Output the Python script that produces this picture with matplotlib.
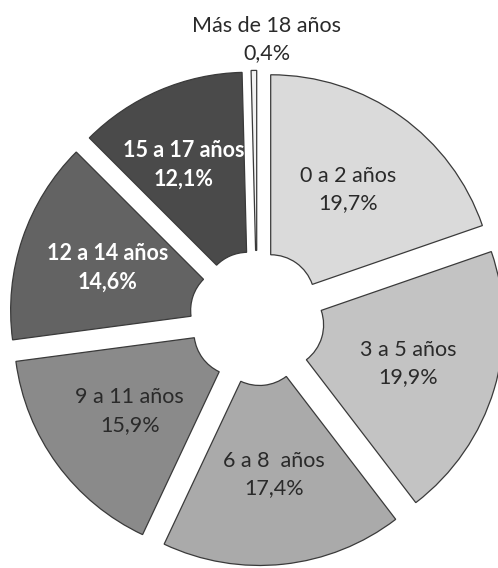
import numpy as np
import matplotlib
matplotlib.use('Agg')
import matplotlib.pyplot as plt

# age groups, clockwise from 12 o'clock
groups = ['0 a 2 años', '3 a 5 años', '6 a 8  años', '9 a 11 años',
          '12 a 14 años', '15 a 17 años', 'Más de 18 años']
pct = [19.7, 19.9, 17.4, 15.9, 14.6, 12.1, 0.4]
pct_labels = ['19,7%', '19,9%', '17,4%', '15,9%', '14,6%', '12,1%', '0,4%']

colors = ['#dadada', '#c3c3c3', '#aaaaaa', '#8a8a8a', '#636363', '#4a4a4a', '#f2f2f2']
text_colors = ['#2a2a2a'] * 4 + ['white', 'white', '#2a2a2a']
bold = [False, False, False, False, True, True, False]

W, H = 498, 568
cx, cy = 257, 250        # centre of the ring (y up)
R = 224                  # outer radius
r_in = 44                # hole radius
expl = 23.6              # explode distance

plt.rcParams['font.family'] = ['Lato', 'DejaVu Sans']

fig = plt.figure(figsize=(W / 100, H / 100), dpi=100)
ax = fig.add_axes([0, 0, 1, 1])

ax.pie(pct, colors=colors, startangle=90, counterclock=False,
       radius=R, center=(cx, cy), explode=[expl] * len(pct),
       wedgeprops=dict(width=R - r_in, edgecolor='#3a3a3a', linewidth=0.9),
       normalize=True)

ax.set_xlim(0, W)
ax.set_ylim(0, H)
ax.set_aspect('equal')
ax.axis('off')

# labels in the middle of each ring segment
total = sum(pct)
start = 90.0
rmid = (R + r_in) / 2 + expl
for i, p in enumerate(pct):
    span = 360.0 * p / total
    mid = np.radians(start - span / 2)
    start -= span
    weight = 'bold' if bold[i] else 'normal'
    if i == len(pct) - 1:
        # the tiny slice gets its label above the ring
        tx = cx + 10
        ty = cy + R + expl + 31
    else:
        tx = cx + rmid * np.cos(mid)
        ty = cy + rmid * np.sin(mid)
    if i == 5:
        # pull the 15-17 label a bit away from the thin slice
        tx -= 11
        ty += 8
    ax.text(tx, ty, groups[i] + '\n' + pct_labels[i], ha='center', va='center',
            fontsize=15.5, color=text_colors[i], fontweight=weight,
            linespacing=1.45)

fig.savefig('out.png', dpi=100, facecolor='white')
